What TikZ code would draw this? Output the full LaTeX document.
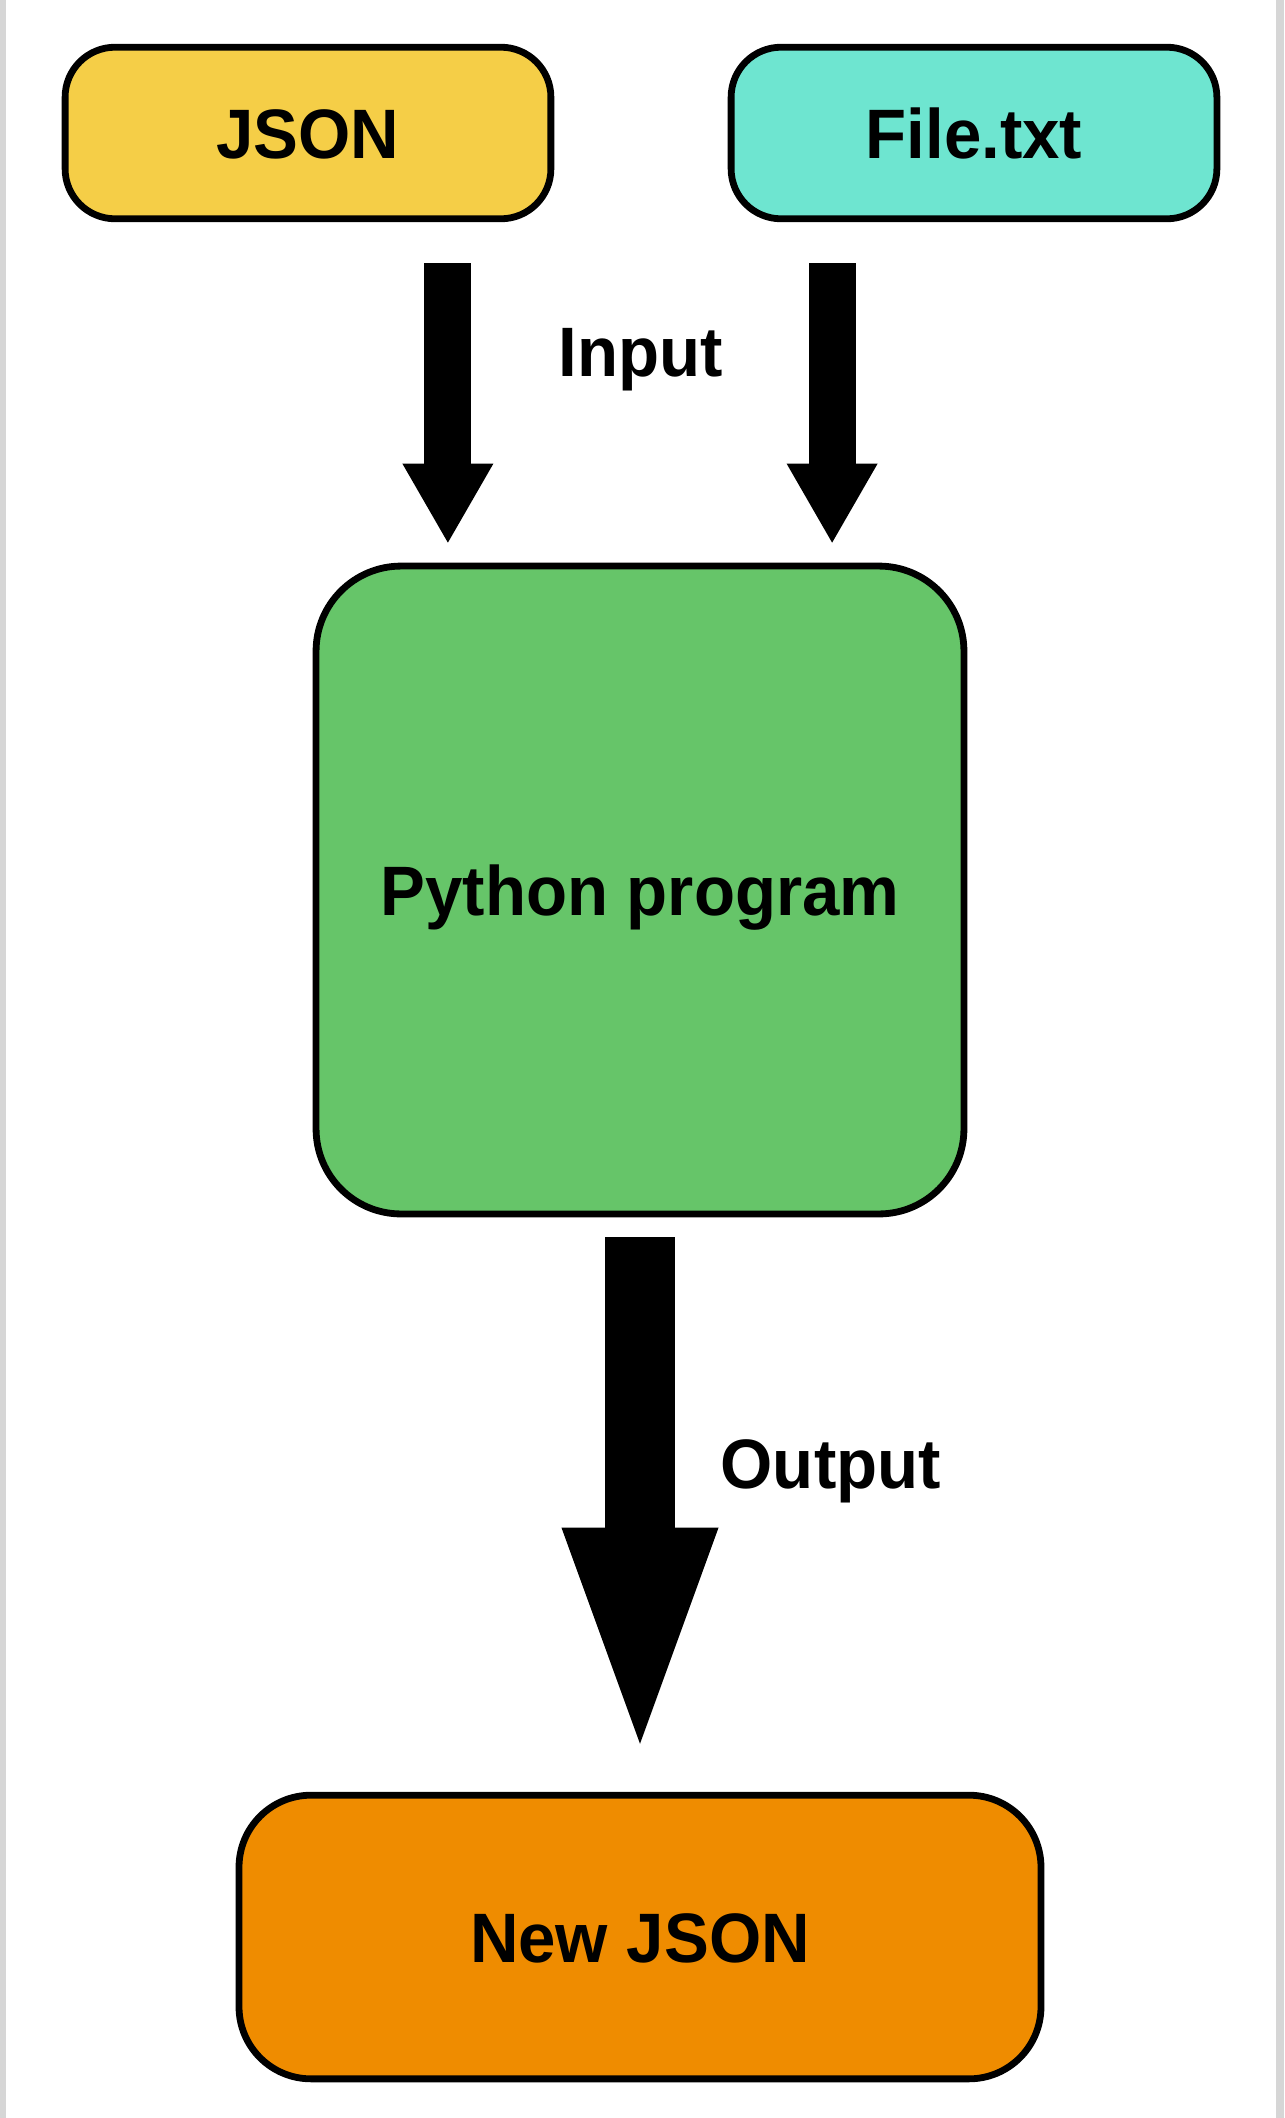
\documentclass[tikz,border=0pt]{standalone}
\usepackage{fontspec}
\setmainfont[FakeStretch=0.96]{Liberation Sans}
\usetikzlibrary{arrows.meta}

\definecolor{jsonyellow}{RGB}{245,206,71}
\definecolor{txtteal}{RGB}{110,229,208}
\definecolor{pygreen}{RGB}{102,197,105}
\definecolor{outorange}{RGB}{239,140,0}
\definecolor{edgegray}{RGB}{214,214,214}

\begin{document}
\begin{tikzpicture}[x=0.01cm, y=-0.01cm,
  box/.style={draw, line width=0.068cm, rounded corners=#1, inner sep=0pt,
    font=\fontsize{19.9pt}{24pt}\selectfont\bfseries, text height=0.5cm, text depth=0pt},
  box/.default=0.5cm,
  lbl/.style={inner sep=0pt, font=\fontsize{19.9pt}{24pt}\selectfont\bfseries},
  inarrow/.style={line width=0.47cm, -{Triangle[width=0.91cm, length=0.79cm, line width=0pt]}},
  outarrow/.style={line width=0.69cm, -{Triangle[width=1.57cm, length=2.16cm, line width=0pt]}}]

  % Page and side strips
  \fill[white] (0,0) rectangle (1284,2118);
  \fill[edgegray] (0,0) rectangle (6,2118);
  \fill[edgegray] (1276,0) rectangle (1284,2118);
  \useasboundingbox (0,0) rectangle (1284,2118);

  % Boxes
  \node[box, fill=jsonyellow, minimum width=4.855cm, minimum height=1.715cm] (json) at (308,133) {JSON};
  \node[box, fill=txtteal, minimum width=4.855cm, minimum height=1.715cm] (txt) at (974,133) {File.txt};
  \node[box=0.85cm, fill=pygreen, minimum width=6.475cm, minimum height=6.475cm] (python) at (640,890) {Python program};
  \node[box=0.72cm, fill=outorange, minimum width=8.015cm, minimum height=2.835cm] (newjson) at (640,1937) {New JSON};

  % Flow arrows
  \draw[inarrow, shorten <=0.41cm, shorten >=0.20cm] ([xshift=-1.92cm]python.north |- json.south) -- ([xshift=-1.92cm]python.north);
  \draw[inarrow, shorten <=0.41cm, shorten >=0.20cm] ([xshift=1.92cm]python.north |- txt.south) -- ([xshift=1.92cm]python.north);
  \draw[outarrow, shorten <=0.20cm, shorten >=0.48cm] (python) -- (newjson);

  % Labels
  \node[lbl, anchor=base] (inlbl) at (641,376) {Input};
  \node[lbl, anchor=base west] (outlbl) at (720,1488) {Output};
\end{tikzpicture}
\end{document}
